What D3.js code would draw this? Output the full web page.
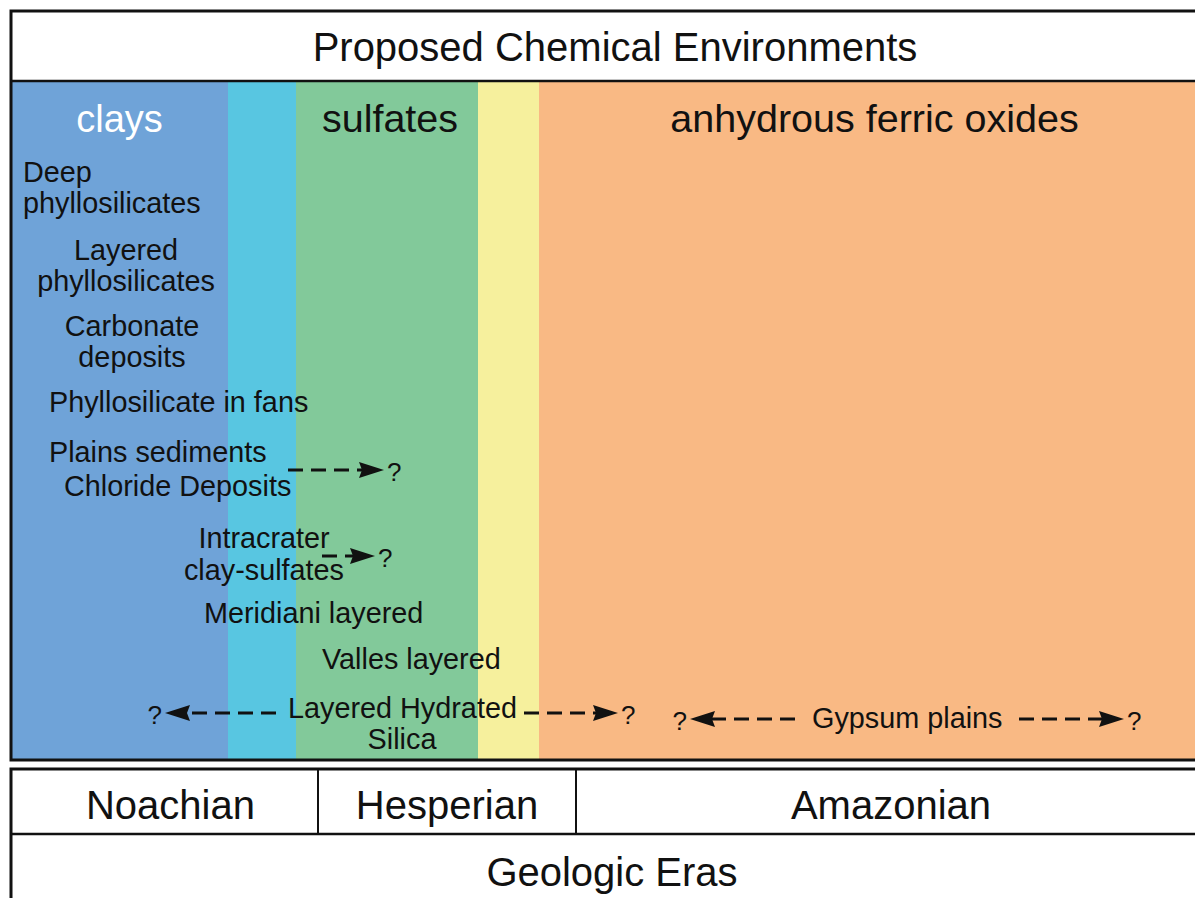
<!DOCTYPE html>
<html>
<head>
<meta charset="utf-8">
<script src="https://cdn.jsdelivr.net/npm/d3@7"></script>
<style>
  body { margin: 0; background: #fff; }
  svg text { font-family: "Liberation Sans", Arial, sans-serif; }
</style>
</head>
<body>
<script>
const width = 1195;
const height = 898;

// chemical environments along the time line (0 = oldest)
const envNames = ["clays", "", "sulfates", "", "anhydrous ferric oxides"];
const envBounds = [0, 217, 285, 467, 528, 1199];
const envColors = ["#6fa3d8", "#58c6e1", "#82c99a", "#f6f09d", "#f9b984"];

// geologic eras
const eraNames = ["Noachian", "Hesperian", "Amazonian"];
const eraBounds = [0, 307, 565, 1199];

// deposit labels, one entry per text line
const depositLines = [
    "Deep", "phyllosilicates",
    "Layered", "phyllosilicates",
    "Carbonate", "deposits",
    "Phyllosilicate in fans",
    "Plains sediments", "Chloride Deposits",
    "Intracrater", "clay-sulfates",
    "Meridiani layered",
    "Valles layered",
    "Layered Hydrated", "Silica",
    "Gypsum plains"
];
// where each line goes: time position, baseline, anchor
const depositPos = [
    [12, 182, "start"], [12, 213, "start"],
    [115, 260, "middle"], [115, 291, "middle"],
    [121, 336, "middle"], [121, 367, "middle"],
    [38, 412, "start"],
    [38, 462, "start"], [53, 496, "start"],
    [253, 548, "middle"], [253, 580, "middle"],
    [193, 623, "start"],
    [311, 669, "start"],
    [277, 718, "start"], [391, 749, "middle"],
    [801, 728, "start"]
];

// uncertain extensions: from -> to on the time line
const arrowFrom = [277, 311, 265, 513, 784, 1008];
const arrowTo = [373, 364, 154, 607, 679, 1113];
const arrowY = [470, 556, 713, 713, 719, 719];

const x = d3.scaleLinear().domain([0, 1199]).range([11, 1210]);

const svg = d3.select("body").append("svg")
    .attr("width", width)
    .attr("height", height);

const frameTop = 11, titleBottom = 81, bandBottom = 760, eraTop = 769, eraBottom = 834;
// small nudges so the headings sit where the original put them
const envNudge = [0, 0, 3, 0, 0];
const eraNudge = [6, 0, -2];

// colour bands
svg.selectAll(".band")
    .data(envColors)
    .join("rect")
    .attr("class", "band")
    .attr("x", (d, i) => x(envBounds[i]))
    .attr("y", titleBottom)
    .attr("width", (d, i) => x(envBounds[i + 1]) - x(envBounds[i]))
    .attr("height", bandBottom - titleBottom)
    .attr("fill", d => d);

// frames
svg.append("rect")
    .attr("x", x(0)).attr("y", frameTop)
    .attr("width", x(1199) - x(0)).attr("height", bandBottom - frameTop)
    .attr("fill", "none").attr("stroke", "#111").attr("stroke-width", 3);
svg.append("line")
    .attr("x1", x(0)).attr("x2", x(1199))
    .attr("y1", titleBottom).attr("y2", titleBottom)
    .attr("stroke", "#111").attr("stroke-width", 2.5);

svg.append("rect")
    .attr("x", x(0)).attr("y", eraTop)
    .attr("width", x(1199) - x(0)).attr("height", 200)
    .attr("fill", "#fff").attr("stroke", "#111").attr("stroke-width", 3);
svg.append("line")
    .attr("x1", x(0)).attr("x2", x(1199))
    .attr("y1", eraBottom).attr("y2", eraBottom)
    .attr("stroke", "#111").attr("stroke-width", 2.5);
svg.selectAll(".era-div")
    .data(eraBounds.slice(1, -1))
    .join("line")
    .attr("class", "era-div")
    .attr("x1", d => x(d)).attr("x2", d => x(d))
    .attr("y1", eraTop).attr("y2", eraBottom)
    .attr("stroke", "#111").attr("stroke-width", 2);

// titles
svg.append("text")
    .attr("x", 615).attr("y", 61)
    .attr("text-anchor", "middle")
    .style("font-size", "40px").attr("fill", "#111")
    .text("Proposed Chemical Environments");

svg.append("text")
    .attr("x", 612).attr("y", 886)
    .attr("text-anchor", "middle")
    .style("font-size", "40px").attr("fill", "#111")
    .text("Geologic Eras");

svg.selectAll(".env-label")
    .data(envNames)
    .join("text")
    .attr("class", "env-label")
    .attr("x", (d, i) => (x(envBounds[i]) + x(envBounds[i + 1])) / 2 + envNudge[i])
    .attr("y", 132)
    .attr("text-anchor", "middle")
    .style("font-size", (d, i) => i === 0 ? "38px" : "39.5px")
    .attr("fill", (d, i) => i === 0 ? "#fff" : "#111")
    .text(d => d);

svg.selectAll(".era-label")
    .data(eraNames)
    .join("text")
    .attr("class", "era-label")
    .attr("x", (d, i) => (x(eraBounds[i]) + x(eraBounds[i + 1])) / 2 + eraNudge[i])
    .attr("y", 819)
    .attr("text-anchor", "middle")
    .style("font-size", "40px").attr("fill", "#111")
    .text(d => d);

// deposit names
svg.selectAll(".deposit")
    .data(depositLines)
    .join("text")
    .attr("class", "deposit")
    .attr("x", (d, i) => x(depositPos[i][0]))
    .attr("y", (d, i) => depositPos[i][1])
    .attr("text-anchor", (d, i) => depositPos[i][2])
    .style("font-size", "28.8px").attr("fill", "#111")
    .text(d => d);

// dashed arrows with question marks
const headLen = 25, headHalf = 8;
const arrows = svg.selectAll(".arrow")
    .data(arrowFrom)
    .join("g")
    .attr("class", "arrow");

arrows.append("line")
    .attr("x1", (d, i) => x(d))
    .attr("x2", (d, i) => {
        const dir = Math.sign(arrowTo[i] - d);
        return x(arrowTo[i]) - dir * headLen * 0.8;
    })
    .attr("y1", (d, i) => arrowY[i])
    .attr("y2", (d, i) => arrowY[i])
    .attr("stroke", "#111").attr("stroke-width", 3.2)
    .attr("stroke-dasharray", "15,8");

arrows.append("path")
    .attr("d", (d, i) => {
        const dir = Math.sign(arrowTo[i] - d);
        const tip = x(arrowTo[i]), y = arrowY[i];
        const back = tip - dir * headLen;
        return `M${tip},${y}L${back},${y - headHalf}L${back + dir * 3},${y}L${back},${y + headHalf}Z`;
    })
    .attr("fill", "#111");

arrows.append("text")
    .attr("x", (d, i) => x(arrowTo[i]) + Math.sign(arrowTo[i] - d) * 3)
    .attr("y", (d, i) => arrowY[i] + 11)
    .attr("text-anchor", (d, i) => arrowTo[i] > d ? "start" : "end")
    .style("font-size", "26px").attr("fill", "#111")
    .text("?");
</script>
</body>
</html>
